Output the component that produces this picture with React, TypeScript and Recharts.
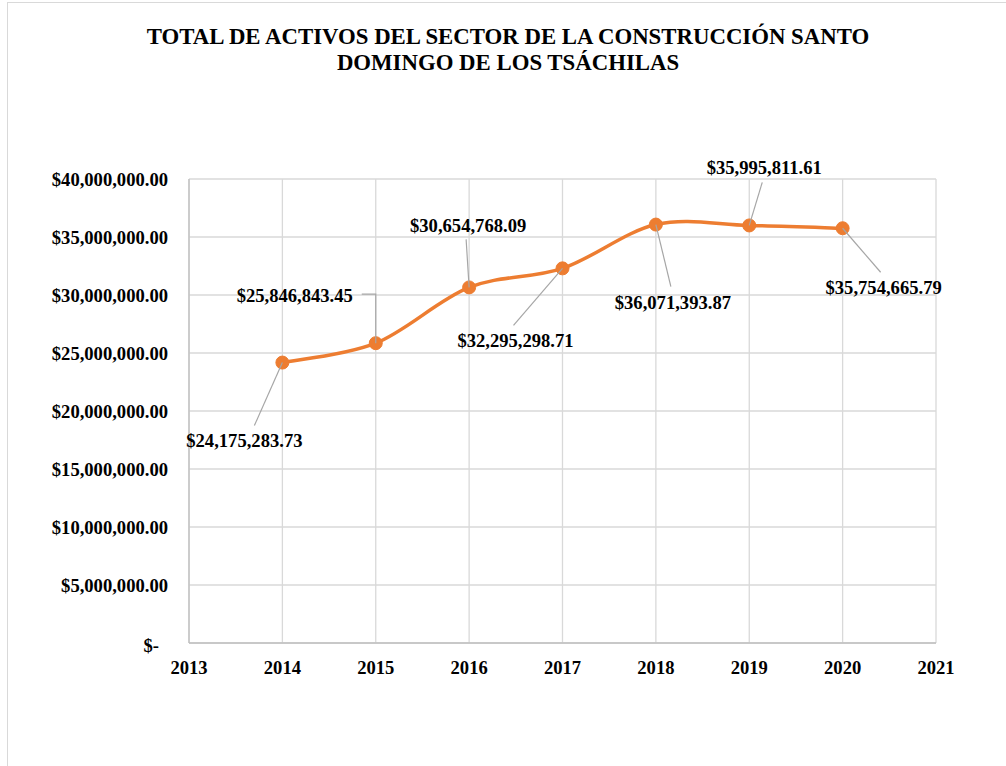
import React from 'react';
import { LineChart, Line, XAxis, YAxis, CartesianGrid } from 'recharts';

const years = [2014, 2015, 2016, 2017, 2018, 2019, 2020];
const activos = [
  24175283.73, 25846843.45, 30654768.09, 32295298.71, 36071393.87, 35995811.61, 35754665.79,
];
const xTicks = [2013, 2014, 2015, 2016, 2017, 2018, 2019, 2020, 2021];
const yTicks = [0, 5000000, 10000000, 15000000, 20000000, 25000000, 30000000, 35000000, 40000000];

const titleLines = ['TOTAL DE ACTIVOS DEL SECTOR DE LA CONSTRUCCIÓN SANTO', 'DOMINGO DE LOS TSÁCHILAS'];

const chartData = years.map((year, i) => ({ year, value: activos[i] }));

const FONT = '"Liberation Serif", "Times New Roman", serif';
const ORANGE = '#ED7D31';
const FS = 18.6;

// label placement relative to each point (text centre + leader start)
const labelLayout = [
  { dx: -38, dy: 78, lx: -28, ly: 63 },
  { dx: -81, dy: -48, lx: -14, ly: -49, elbow: true },
  { dx: -1, dy: -62, lx: -3, ly: -48 },
  { dx: -47, dy: 72, lx: -49, ly: 57 },
  { dx: 17, dy: 78, lx: 15, ly: 62 },
  { dx: 15, dy: -58, lx: 13, ly: -43 },
  { dx: 41, dy: 59, lx: 38, ly: 44 },
];

const money = (v: number) =>
  v === 0
    ? '$-'
    : '$' + v.toLocaleString('en-US', { minimumFractionDigits: 2, maximumFractionDigits: 2 });

// Excel-like smoothed line (Catmull-Rom as bezier)
function excelSmooth(context: any) {
  let pts: number[][] = [];
  return {
    areaStart() {},
    areaEnd() {},
    lineStart() {
      pts = [];
    },
    point(x: number, y: number) {
      pts.push([+x, +y]);
    },
    lineEnd() {
      const n = pts.length;
      if (!n) return;
      context.moveTo(pts[0][0], pts[0][1]);
      for (let i = 0; i < n - 1; i++) {
        const p0 = pts[i - 1] || pts[i];
        const p1 = pts[i];
        const p2 = pts[i + 1];
        const p3 = pts[i + 2] || p2;
        context.bezierCurveTo(
          p1[0] + (p2[0] - p0[0]) / 6,
          p1[1] + (p2[1] - p0[1]) / 6,
          p2[0] - (p3[0] - p1[0]) / 6,
          p2[1] - (p3[1] - p1[1]) / 6,
          p2[0],
          p2[1]
        );
      }
    },
  };
}

const YTick = (props: any) => {
  const { x, y, payload } = props;
  const zero = payload.value === 0;
  return (
    <text
      x={x - (zero ? 9 : 0)}
      y={y + (zero ? 2 : 0)}
      dy="0.35em"
      textAnchor="end"
      fontFamily={FONT}
      fontWeight="bold"
      fontSize={FS}
      fill="#000"
    >
      {money(payload.value)}
    </text>
  );
};

const XTick = (props: any) => {
  const { x, y, payload } = props;
  return (
    <text x={x} y={y} dy="0.35em" textAnchor="middle" fontFamily={FONT} fontWeight="bold" fontSize={FS} fill="#000">
      {payload.value}
    </text>
  );
};

const PointLabel = (props: any) => {
  const { x, y, value, index } = props;
  const l = labelLayout[index];
  if (!l) return null;
  const leader = l.elbow
    ? `M${x + l.lx},${y + l.ly} L${x},${y + l.ly} L${x},${y}`
    : `M${x + l.lx},${y + l.ly} L${x},${y}`;
  return (
    <g>
      <path d={leader} stroke="#A6A6A6" strokeWidth={1.2} fill="none" />
      <text
        x={x + l.dx}
        y={y + l.dy}
        dy="0.35em"
        textAnchor="middle"
        fontFamily={FONT}
        fontWeight="bold"
        fontSize={FS}
        fill="#000"
      >
        {money(value)}
      </text>
    </g>
  );
};

export default function App() {
  return (
    <div style={{ position: 'fixed', inset: 0, overflow: 'hidden', background: '#fff' }}>
      <div
        style={{
          position: 'absolute',
          left: 7,
          top: 2,
          width: 1010,
          height: 800,
          border: '1px solid #D9D9D9',
          boxSizing: 'border-box',
        }}
      />
      <div
        style={{
          position: 'absolute',
          left: 0,
          top: 24,
          width: 1016,
          textAlign: 'center',
          fontFamily: FONT,
          fontWeight: 'bold',
          fontSize: 22.8,
          lineHeight: '26px',
          color: '#000',
        }}
      >
        {titleLines.map((t) => (
          <div key={t}>{t}</div>
        ))}
      </div>
      <div style={{ position: 'absolute', left: 0, top: 0 }}>
        <LineChart width={1006} height={766} data={chartData} margin={{ top: 179, right: 70, bottom: 0, left: 0 }}>
          <CartesianGrid stroke="#D9D9D9" strokeWidth={1.3} />
          <XAxis
            dataKey="year"
            type="number"
            domain={[2013, 2021]}
            ticks={xTicks}
            interval={0}
            tickLine={false}
            axisLine={{ stroke: '#BFBFBF', strokeWidth: 1.3 }}
            tick={<XTick />}
            tickSize={0}
            tickMargin={24}
            height={123}
          />
          <YAxis
            type="number"
            domain={[0, 40000000]}
            ticks={yTicks}
            interval={0}
            tickLine={false}
            axisLine={{ stroke: '#BFBFBF', strokeWidth: 1.3 }}
            tick={<YTick />}
            tickSize={0}
            tickMargin={21}
            width={189}
          />
          <Line
            dataKey="value"
            type={excelSmooth as any}
            stroke={ORANGE}
            strokeWidth={3.5}
            dot={{ r: 6.5, fill: ORANGE, stroke: ORANGE, strokeWidth: 1 }}
            activeDot={false}
            label={<PointLabel />}
            isAnimationActive={false}
          />
        </LineChart>
      </div>
    </div>
  );
}
